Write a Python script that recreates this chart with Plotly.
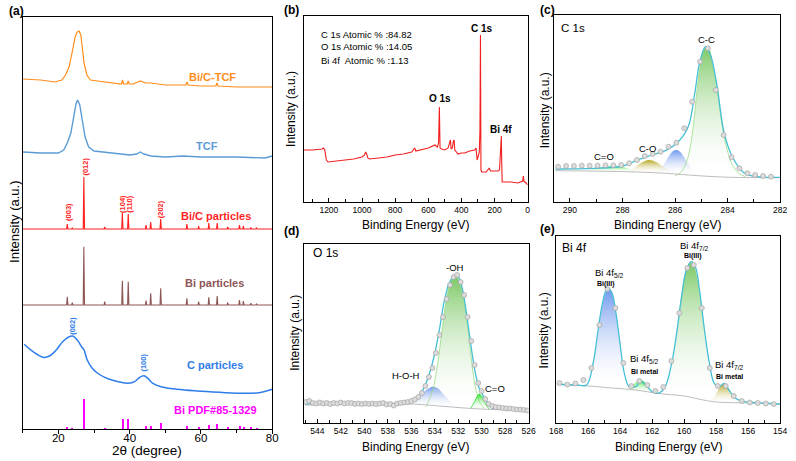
import plotly.graph_objects as go

FONT = "Liberation Sans, Arial, Helvetica, sans-serif"
W, H = 796, 461

# ======================= (a) XRD =======================
bictcf_2theta = [10, 15, 19, 21, 22, 23, 24, 24.7, 25.3, 25.8, 26.3, 26.8, 27.2, 28, 29, 31, 35,
                 37.7, 38.0, 38.3, 39.3, 39.6, 39.9, 41, 43, 44.5, 46, 50, 55.8, 56.1, 56.4,
                 60, 64.2, 64.5, 64.8, 70, 75, 80]
bictcf_int = [350, 349, 347, 349, 354, 362, 379, 392, 397, 398, 394, 379, 366, 354, 349, 348, 346,
              345, 349, 345, 345, 348, 345, 345, 348, 346, 346, 344, 344, 347, 344,
              343, 343, 346, 343, 342, 342, 342]

tcf_2theta = [10, 15, 20, 21.5, 22.5, 23.5, 24.3, 25, 25.4, 26, 26.7, 27.5, 28.5, 30, 35, 40,
              42, 43, 44, 46, 50, 55, 60, 70, 78, 80]
tcf_int = [277, 276, 276, 279, 286, 296, 312, 326, 329, 324, 309, 292, 282, 278, 276, 274,
           275, 277, 275, 273, 272, 273, 272, 272, 271, 273]

bi_peak_2theta = [22.5, 23.9, 27.15, 33.0, 37.95, 39.6, 44.6, 45.9, 48.7, 56.05, 59.35, 62.2,
                  64.55, 67.5, 70.8, 71.9, 74.0, 75.6]
bic_base = 200
bic_peak_int = [205, 201, 252, 202, 216, 215, 204, 207, 210, 205, 203, 206, 206, 202, 204, 203,
                201.5, 201]
bi_base = 124
bi_peak_int = [132.3, 126.3, 182.3, 127.3, 148.3, 147.3, 128.3, 135.7, 140.7, 130.7, 127.3,
               131.7, 133, 126.3, 129, 128, 125.7, 125]
pdf_int = [2, 1, 30, 0.8, 10, 10.5, 3, 3, 6, 3.5, 2, 4, 5, 1.5, 3, 2.5, 1.5, 1]

cpart_2theta = [10.4, 12.9, 15.7, 17.5, 19.4, 21.2, 23.0, 24.0, 25.3, 26.5, 27.2, 28.1, 29.5,
                31.3, 34.1, 36.8, 39.6, 41.4, 42.8, 44.0, 45.1, 46.5, 48.8, 53.3, 58.9, 65.3,
                71.7, 76.3, 80]
cpart_int = [84.7, 77.3, 71.7, 73, 79, 87.3, 92.3, 93, 89, 82.3, 79, 69, 60.7, 55, 50, 47.3,
             45.7, 47.3, 51.7, 53.3, 50.7, 45.7, 42.3, 39.7, 38, 36.7, 35.7, 36.3, 39.7]

# ======================= (b) survey =======================
survey_be = [1352, 1300, 1240, 1232, 1225, 1215, 1205, 1150, 1100, 1050, 1000, 985, 978, 972,
             965, 955, 900, 850, 800, 750, 700, 682, 675, 650, 600, 560, 545, 538, 533, 529,
             520, 500, 480, 470, 466, 462, 455, 448, 444, 440, 420, 400, 380, 350, 320, 312,
             305, 298, 292, 288, 285, 282, 278, 250, 240, 232, 225, 180, 170, 165, 163, 161,
             159, 157, 154, 140, 100, 60, 30, 26, 23, 10, 0]
survey_int = [52, 52, 53, 54, 52, 42, 40, 41, 42, 43, 45, 47, 50, 48,
              44, 43, 44, 45, 47, 48, 50, 54, 51, 52, 54, 57, 55, 59, 95, 54,
              53, 52, 54, 60, 62, 53, 54, 61, 62, 52, 48, 49, 49, 51, 52, 54,
              42, 46, 50, 72, 167, 32, 30, 30, 33, 34, 31, 31, 32, 52, 62, 52,
              66, 42, 20, 20, 20, 19, 21, 26, 21, 19, 17]

# ======================= (c) C 1s =======================
c_pts_be = [290.45, 290.15, 289.85, 289.55, 289.25, 288.95, 288.65, 288.35, 288.05, 287.75,
            287.45, 287.15, 286.85, 286.55, 286.25, 285.95, 285.65, 285.35, 285.05, 284.75,
            284.45, 284.15, 283.85, 283.55, 283.25, 282.95, 282.65, 282.35]
c_pts_int = [35.3, 36, 36, 36.3, 36.3, 36.3, 36.7, 36.7, 37, 38.7, 42, 46, 48, 50.3, 55.3,
             59.3, 73.7, 100.3, 140.3, 153.7, 112, 67, 44.7, 33.7, 28.7, 27, 26, 25.3]
c_env_be = [290.55, 289.12, 287.99, 287.37, 286.87, 286.37, 285.88, 285.50, 285.25, 285.07,
            284.84, 284.63, 284.40, 284.13, 283.82, 283.38, 282.88, 282.01]
c_env_int = [33, 33.7, 36, 42.7, 47, 51.3, 60.3, 75.3, 108.7, 138.7, 155.3, 145.3, 115.3,
             68.7, 45.3, 29.3, 25.3, 24.7]
c_bg_be = [290.55, 287.87, 286.37, 285.13, 283.88, 282.01]
c_bg_int = [31.3, 30.3, 28.7, 26.3, 24.7, 24.3]
c_cc_be = [286.00, 285.75, 285.50, 285.31, 285.19, 285.07, 284.94, 284.82, 284.69, 284.57,
           284.40, 284.26, 284.13, 283.98, 283.82, 283.57, 283.32]
c_cc_int = [26, 30.3, 45.3, 75.3, 105.3, 132, 150.3, 155.3, 152, 137, 113.7, 85.3, 65.3, 48.7,
            37, 28.7, 25.3]
c_co_be = [286.62, 286.44, 286.25, 286.06, 285.94, 285.81, 285.63, 285.44, 285.25, 285.07]
c_co_int = [29.5, 37, 45.3, 51.3, 52, 50.3, 43.7, 36, 30.3, 27]
c_olive_be = [287.74, 287.50, 287.25, 287.00, 286.75, 286.50, 286.25, 285.94]
c_olive_int = [30.5, 35.3, 39.7, 42, 40.3, 36.3, 32, 28.5]
c_c2o_be = [289.49, 289.12, 288.74, 288.37, 288.06, 287.81, 287.50]
c_c2o_int = [31.0, 33, 34.7, 36, 35.3, 33.7, 30.5]

# ======================= (d) O 1s =======================
o_pts_be = [545.0, 544.7, 544.4, 544.1, 543.8, 543.5, 543.2, 542.9, 542.6, 542.3, 542.0,
            541.7, 541.4, 541.1, 540.8, 540.5, 540.2, 539.9, 539.6, 539.3, 539.0, 538.7,
            538.4, 538.1, 537.8, 537.5, 537.2, 536.9, 536.6, 536.3, 536.0, 535.7, 535.4,
            535.1, 534.8, 534.5, 534.2, 533.9, 533.6, 533.3, 533.0, 532.7, 532.4, 532.1,
            531.8, 531.5, 531.2, 530.9, 530.6, 530.3, 530.0, 529.7, 529.4, 529.1, 528.8,
            528.5, 528.2, 527.9, 527.6, 527.3, 527.0, 526.7, 526.4, 526.1]
o_pts_int = [21, 22, 20, 19.5, 20.5, 19.5, 20, 19, 20, 19.5, 20.5, 19.5, 20, 20, 19, 19.5,
             19, 19.5, 19, 19.5, 19, 19.5, 20, 18.5, 19, 17.5, 19.5, 20, 20.5, 21, 22, 23.5,
             26, 30, 37, 46, 55, 70, 88, 106, 124, 138, 146, 148, 141, 128, 106, 82, 58, 40,
             32, 24, 19, 17, 16, 15.5, 15, 14.5, 14.5, 14, 13.5, 13.5, 13, 12.5]
o_env_be = [545.06, 540.87, 536.13, 535.29, 534.87, 534.45, 534.03, 533.61, 533.20, 532.78,
            532.36, 532.00, 531.66, 531.24, 530.82, 530.54, 530.21, 529.99, 529.57, 529.15,
            528.33, 526.08]
o_env_int = [19, 19.7, 21.3, 28, 36.3, 49.7, 68, 93, 121.3, 139.7, 147, 146.3, 134.7, 104.7,
             69.7, 49.7, 34.7, 29.7, 21.3, 15.3, 14, 13]
o_bg_be = [545.06, 536.1, 533.6, 531.5, 529.5, 526.08]
o_bg_int = [18, 19, 17, 15, 13.7, 13]
o_oh_be = [534.73, 534.17, 533.75, 533.34, 532.92, 532.50, 532.22, 531.94, 531.52, 531.10,
           530.77, 530.49, 530.13, 529.76]
o_oh_int = [16.3, 33, 59.7, 96.3, 129.7, 144.7, 146.3, 143, 123, 86.3, 53, 33, 19.7, 14.7]
o_hoh_be = [536.41, 535.85, 535.29, 534.73, 534.17, 533.75, 533.20, 532.64, 532.08, 531.52]
o_hoh_int = [18.5, 19.7, 26.3, 33, 36.3, 34.7, 28, 21.3, 17, 15.3]
o_co_be = [530.96, 530.68, 530.40, 530.21, 529.99, 529.71, 529.37]
o_co_int = [14.5, 19.7, 26.3, 29, 26.3, 19.7, 13.9]

# ======================= (e) Bi 4f =======================
bi_pts_be = [167.8, 167.3, 166.8, 166.3, 165.8, 165.3, 164.8, 164.3, 163.8, 163.3, 162.8,
             162.3, 161.8, 161.3, 160.8, 160.3, 159.8, 159.4, 158.9, 158.4, 157.9, 157.4,
             156.9, 156.4, 155.9, 155.4, 154.9, 154.4]
bi_pts_int = [40, 38.5, 39.5, 43, 55, 98, 134, 115, 60, 37, 42, 38, 32, 36, 62, 110, 155,
              158, 115, 55, 37, 37, 27, 22, 20.5, 20, 19.5, 19]
bi_env_be = [167.94, 166.71, 166.10, 165.69, 165.38, 165.11, 164.87, 164.71, 164.50, 164.26,
             164.01, 163.74, 163.44, 163.03, 162.72, 162.41, 162.00, 161.60, 161.19, 160.78,
             160.47, 160.16, 159.86, 159.55, 159.30, 159.04, 158.73, 158.42, 158.12, 157.81,
             157.50, 157.20, 156.79, 156.27, 155.46, 154.02]
bi_env_int = [39, 38, 38, 59.7, 93, 119.7, 133, 134.7, 129.7, 109.7, 79.7, 49.7, 36.3, 36.3,
              41.3, 38, 31.3, 29.7, 36.3, 59.7, 89.7, 126.3, 153, 161.3, 156.3, 133, 93, 59.7,
              39.7, 36.3, 39.7, 33, 24.7, 21.3, 20.3, 19]
bi_bg_be = [167.94, 166.0, 164.5, 163.0, 161.6, 160.0, 158.8, 158.0, 156.0, 154.02]
bi_bg_int = [38.5, 37, 35, 33, 29.5, 27, 23, 21, 20, 19]
bi_f52_be = [165.99, 165.69, 165.38, 165.11, 164.87, 164.71, 164.50, 164.26, 164.01, 163.74,
             163.54, 163.33]
bi_f52_int = [37, 58, 91.3, 118, 131.3, 133.7, 129, 109, 78, 49.7, 36.3, 33.7]
bim_f52_be = [163.74, 163.33, 163.03, 162.72, 162.41, 162.11, 161.80]
bim_f52_int = [32, 36.3, 40.3, 43, 40.3, 34.7, 30.3]
bi_f72_be = [161.19, 160.94, 160.74, 160.47, 160.20, 159.92, 159.65, 159.45, 159.24, 158.98,
             158.73, 158.49, 158.22, 157.91]
bi_f72_int = [28, 39.7, 59.7, 93, 126.3, 151.3, 160.3, 159.7, 149.7, 126.3, 93, 61.3, 36.3, 23]
bim_f72_be = [158.42, 158.12, 157.81, 157.54, 157.30, 156.99, 156.58]
bim_f72_int = [21.3, 26.3, 34.7, 39, 36.3, 28, 19.7]

# ======================= layout helpers =======================
frames = {  # pixel boxes: x0, x1, y0(top), y1(bottom)
    "a": (16, 270, 17, 429),
    "b": (302, 530, 16, 202),
    "c": (557, 787, 15, 202),
    "d": (302, 531, 244, 423),
    "e": (559, 787, 236, 423),
}


def dom(key):
    x0, x1, y0, y1 = frames[key]
    return [x0 / W, x1 / W], [1 - y1 / H, 1 - y0 / H]


def ann(text, x, y, size, color="black", bold=False, angle=0, xanchor="center"):
    if bold:
        text = "<b>" + text + "</b>"
    return dict(text=text, x=x / W, y=1 - y / H, xref="paper", yref="paper",
                showarrow=False, textangle=angle, xanchor=xanchor, yanchor="middle",
                font=dict(family=FONT, size=size, color=color))


def peak_line(pos, tops, base, x0, x1, hw=0.18):
    xs, ys = [x0], [base]
    for p, t in zip(pos, tops):
        xs += [p - hw, p, p + hw]
        ys += [base, t, base]
    xs.append(x1)
    ys.append(base)
    return xs, ys


fig = go.Figure()

# ---- (a)
fig.add_trace(go.Scatter(x=bictcf_2theta, y=bictcf_int, mode="lines",
                         line=dict(color="#FF8C1A", width=1.2), xaxis="x", yaxis="y"))
fig.add_trace(go.Scatter(x=tcf_2theta, y=tcf_int, mode="lines",
                         line=dict(color="#5B9BD5", width=1.4), xaxis="x", yaxis="y"))
xs, ys = peak_line(bi_peak_2theta, bic_peak_int, bic_base, 10, 80)
fig.add_trace(go.Scatter(x=xs, y=ys, mode="lines", line=dict(color="#FF1F1F", width=1.1),
                         xaxis="x", yaxis="y"))
xs, ys = peak_line(bi_peak_2theta, bi_peak_int, bi_base, 10, 80)
fig.add_trace(go.Scatter(x=xs, y=ys, mode="lines", line=dict(color="#8E5555", width=1.1),
                         xaxis="x", yaxis="y"))
fig.add_trace(go.Scatter(x=cpart_2theta, y=cpart_int, mode="lines", line_shape="spline",
                         line=dict(color="#2F7DE8", width=1.5), xaxis="x", yaxis="y"))
fig.add_trace(go.Bar(x=bi_peak_2theta, y=pdf_int, width=0.35, marker_color="#FF00FF",
                     marker_line_width=0, xaxis="x", yaxis="y"))

# ---- (b)
fig.add_trace(go.Scatter(x=survey_be, y=survey_int, mode="lines",
                         line=dict(color="#F21F1F", width=1.1), xaxis="x2", yaxis="y2"))


def component(be, inten, top_rgb, xa, ya, line_rgb=None):
    return go.Scatter(
        x=be, y=inten, mode="lines", fill="toself", line_shape="spline",
        line=dict(color=line_rgb or "rgba(0,0,0,0)", width=0.8),
        fillgradient=dict(type="vertical",
                          colorscale=[[0, "rgba(255,255,255,0.05)"], [1, top_rgb]]),
        xaxis=xa, yaxis=ya)


def xps(pts_be, pts_int, env_be, env_int, bg_be, bg_int, comps, xa, ya):
    for be, it, col, lc in comps:
        fig.add_trace(component(be, it, col, xa, ya, lc))
    fig.add_trace(go.Scatter(x=bg_be, y=bg_int, mode="lines", line_shape="spline",
                             line=dict(color="#BDBDBD", width=1), xaxis=xa, yaxis=ya))
    fig.add_trace(go.Scatter(x=env_be, y=env_int, mode="lines", line_shape="spline",
                             line=dict(color="#45BFD6", width=1.3), xaxis=xa, yaxis=ya))
    fig.add_trace(go.Scatter(x=pts_be, y=pts_int, mode="markers",
                             marker=dict(size=5, color="#DCDCDC",
                                         line=dict(color="#9A9A9A", width=0.6)),
                             xaxis=xa, yaxis=ya))


GREEN = "rgba(110,195,85,0.9)"
BLUE = "rgba(95,140,235,0.9)"
OLIVE = "rgba(175,160,20,0.95)"
LIME = "rgba(30,225,30,0.95)"

xps(c_pts_be, c_pts_int, c_env_be, c_env_int, c_bg_be, c_bg_int,
    [(c_c2o_be, c_c2o_int, LIME, None), (c_olive_be, c_olive_int, OLIVE, None),
     (c_co_be, c_co_int, BLUE, None), (c_cc_be, c_cc_int, GREEN, "#9ADB86")], "x3", "y3")
xps(o_pts_be, o_pts_int, o_env_be, o_env_int, o_bg_be, o_bg_int,
    [(o_hoh_be, o_hoh_int, BLUE, None), (o_oh_be, o_oh_int, GREEN, "#9ADB86"),
     (o_co_be, o_co_int, LIME, "#22DD22")], "x4", "y4")
xps(bi_pts_be, bi_pts_int, bi_env_be, bi_env_int, bi_bg_be, bi_bg_int,
    [(bi_f52_be, bi_f52_int, BLUE, None), (bim_f52_be, bim_f52_int, LIME, None),
     (bi_f72_be, bi_f72_int, GREEN, None), (bim_f72_be, bim_f72_int, OLIVE, None)],
    "x5", "y5")

# ---- axes
def xcfg(key, rng, dtick, mdtick, ticks, size, anchor, standoff=0):
    d, _ = dom(key)
    return dict(domain=d, range=rng, anchor=anchor, showline=True, linecolor="black",
                linewidth=1.3, mirror=True, ticks=ticks, ticklen=4, tickwidth=1,
                tickcolor="black", tick0=0, dtick=dtick, showgrid=False, zeroline=False,
                ticklabelstandoff=standoff,
                minor=dict(dtick=mdtick, ticks=ticks, ticklen=2.5, tickcolor="black",
                           showgrid=False),
                tickfont=dict(family=FONT, size=size, color="black"))


def ycfg(key, rng, anchor):
    _, d = dom(key)
    return dict(domain=d, range=rng, anchor=anchor, showline=True, linecolor="black",
                linewidth=1.3, mirror=True, ticks="", showticklabels=False,
                showgrid=False, zeroline=False)


fig.update_layout(
    width=W, height=H, margin=dict(l=0, r=0, t=0, b=0),
    paper_bgcolor="white", plot_bgcolor="white", showlegend=False, bargap=0,
    xaxis=xcfg("a", [10, 80], 20, 10, "outside", 11.5, "y", -6),
    yaxis=ycfg("a", [0, 412], "x"),
    xaxis2=xcfg("b", [1352, 0], 200, 100, "inside", 8.5, "y2"),
    yaxis2=ycfg("b", [0, 186], "x2"),
    xaxis3=xcfg("c", [290.6, 282], 2, 1, "inside", 8.5, "y3"),
    yaxis3=ycfg("c", [0, 187], "x3"),
    xaxis4=xcfg("d", [545.17, 526], 2, 1, "inside", 8.5, "y4"),
    yaxis4=ycfg("d", [0, 179], "x4"),
    xaxis5=xcfg("e", [168, 154], 2, 1, "inside", 8.5, "y5"),
    yaxis5=ycfg("e", [0, 187], "x5"),
)

anns = [
    # panel letters
    ann("(a)", 10, 11, 12, bold=True), ann("(b)", 290, 10, 12, bold=True),
    ann("(c)", 550, 10, 12, bold=True), ann("(d)", 290, 231, 12, bold=True),
    ann("(e)", 550, 229, 12, bold=True),
    # axis titles
    ann("2θ (degree)", 143, 450, 13.5), ann("Intensity (a.u.)", 7, 222, 13, angle=-90),
    ann("Binding Energy (eV)", 416, 225, 12), ann("Intensity (a.u.)", 289, 109, 12, angle=-90),
    ann("Binding Energy (eV)", 672, 225, 12), ann("Intensity (a.u.)", 548, 110, 12, angle=-90),
    ann("Binding Energy (eV)", 416, 447, 12), ann("Intensity (a.u.)", 293, 333, 12, angle=-90),
    ann("Binding Energy (eV)", 673, 447, 12), ann("Intensity (a.u.)", 547, 330, 12, angle=-90),
    # (a) series labels
    ann("Bi/C-TCF", 209, 77, 11, "#FF8C1A", True),
    ann("TCF", 204, 146, 11, "#5B9BD5", True),
    ann("Bi/C particles", 213, 216, 11, "#FF1F1F", True),
    ann("Bi particles", 211, 283, 11, "#8E5555", True),
    ann("C particles", 212, 365, 11, "#2F7DE8", True),
    ann("Bi PDF#85-1329", 212, 410, 11, "#FF00FF", True),
    ann("(003)", 62, 212, 7.5, "#FF1F1F", True, -90),
    ann("(012)", 79, 167, 7.5, "#FF1F1F", True, -90),
    ann("(104)", 117, 204, 7.5, "#FF1F1F", True, -90),
    ann("(110)", 124, 204, 7.5, "#FF1F1F", True, -90),
    ann("(202)", 157, 209, 7.5, "#FF1F1F", True, -90),
    ann("(002)", 66, 326, 7.5, "#2F7DE8", True, -90),
    ann("(100)", 138, 363, 7.5, "#2F7DE8", True, -90),
    # (b)
    ann("C 1s Atomic % :84.82", 318, 34, 9.5, xanchor="left"),
    ann("O 1s Atomic % :14.05", 318, 47, 9.5, xanchor="left"),
    ann("Bi 4f  Atomic % :1.13", 318, 60, 9.5, xanchor="left"),
    ann("C 1s", 484, 28, 10, bold=True), ann("O 1s", 441, 99, 10, bold=True),
    ann("Bi 4f", 503, 129, 10, bold=True),
    # (c)
    ann("C 1s", 562, 28, 11.5, xanchor="left"),
    ann("C-C", 712, 39, 9.5), ann("C-O", 652, 148, 9.5), ann("C=O", 608, 157, 9.5),
    # (d)
    ann("O 1s", 309, 253, 12, xanchor="left"),
    ann("-OH", 456, 267, 9.5), ann("H-O-H", 406, 375, 9.5), ann("C=O", 497, 388, 9.5),
    # (e)
    ann("Bi 4f", 563, 248, 12, xanchor="left"),
    ann("Bi 4f<sub>5/2</sub>", 613, 273, 9.5), ann("Bi(III)", 610, 284, 7, bold=True),
    ann("Bi 4f<sub>5/2</sub>", 649, 359, 9.5), ann("Bi metal", 649, 371, 7, bold=True),
    ann("Bi 4f<sub>7/2</sub>", 700, 246, 9.5), ann("Bi(III)", 698, 256, 7, bold=True),
    ann("Bi 4f<sub>7/2</sub>", 735, 365, 9.5), ann("Bi metal", 735, 376, 7, bold=True),
]
fig.update_layout(annotations=anns)

fig.write_html("out.html")
